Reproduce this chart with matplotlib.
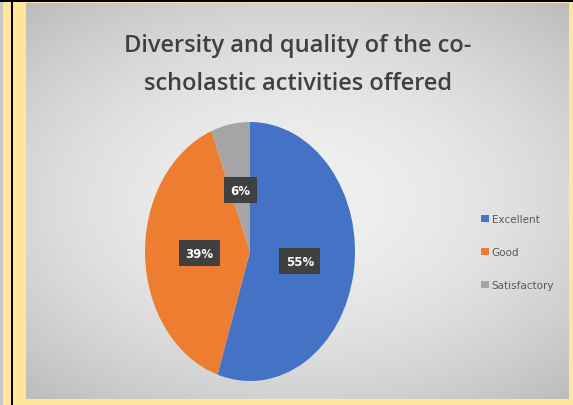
import numpy as np
import matplotlib.pyplot as plt
from matplotlib.patches import Rectangle

categories = ['Excellent', 'Good', 'Satisfactory']
shares = [55, 39, 6]
colors = ['#4472C4', '#ED7D31', '#A5A5A5']
title = 'Diversity and quality of the co-\nscholastic activities offered'

W, H = 573, 406
fig = plt.figure(figsize=(W / 100, H / 100), dpi=100)
fig.patch.set_facecolor('#FFE699')

# background frame and gradient panel
bg = fig.add_axes([0, 0, 1, 1])
bg.set_xlim(0, W)
bg.set_ylim(H, 0)
bg.axis('off')
bg.add_patch(Rectangle((0, 0), 3, H, color='#C8C8C8', lw=0))
bg.add_patch(Rectangle((0, 1), W, 2, color='black', lw=0))
bg.add_patch(Rectangle((11, 0), 2.2, H, color='black', lw=0))

x0, x1, y0, y1 = 26, 569, 4, 400
gx, gy = np.meshgrid(np.linspace(-1, 1, 300), np.linspace(-1, 1, 220))
r = np.sqrt((gx * 0.9) ** 2 + (gy * 1.0) ** 2)
shade = np.clip(0.94 - 0.12 * r ** 1.8, 0, 1)
bg.imshow(shade, cmap='gray', vmin=0, vmax=1, extent=[x0, x1, y1, y0],
          aspect='auto', interpolation='bilinear', zorder=1)

bg.text(298, 65, title, ha='center', va='center', fontsize=17,
        family='Open Sans', fontweight='semibold', color='#404040',
        linespacing=1.75, zorder=3)

# pie (slightly stretched vertically like the source)
cx, cy, rx, ry = 250, 252.5, 105, 129.5
ax = fig.add_axes([(cx - rx) / W, 1 - (cy + ry) / H, 2 * rx / W, 2 * ry / H])
ax.set_zorder(2)
wedges, _, autotexts = ax.pie(
    shares, colors=colors, startangle=90, counterclock=False,
    autopct='%d%%', pctdistance=0.48, radius=1,
    wedgeprops=dict(linewidth=0),
    textprops=dict(color='white', fontsize=8.5, fontweight='bold',
                   family='DejaVu Sans'))
for t in autotexts:
    t.set_bbox(dict(boxstyle='square,pad=0.55', fc='#404040', ec='none'))
ax.set_xlim(-1, 1)
ax.set_ylim(-1, 1)
ax.set_aspect('auto')

leg = fig.legend(wedges, categories, loc='center left',
                 bbox_to_anchor=(472 / W, 1 - 253 / H), frameon=False,
                 fontsize=7.5, labelcolor='#595959', handlelength=0.7,
                 handleheight=0.7, handletextpad=0.3, labelspacing=2.2)
leg.set_zorder(3)

fig.savefig('out.png', dpi=100, facecolor=fig.get_facecolor())
